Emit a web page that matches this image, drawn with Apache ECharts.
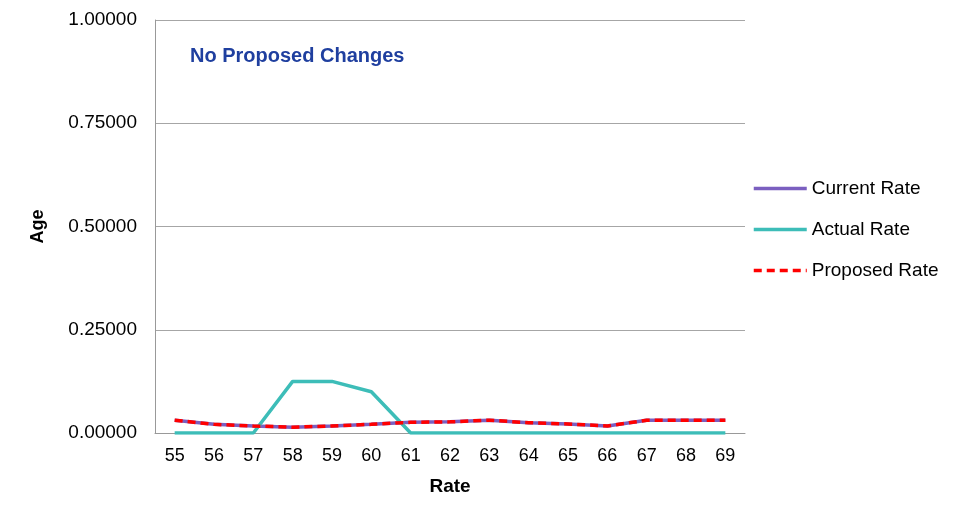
<!DOCTYPE html>
<html><head><meta charset="utf-8">
<script src="https://cdn.jsdelivr.net/npm/echarts@6/dist/echarts.min.js"></script>
<style>html,body{margin:0;padding:0;background:#fff}#c{width:956px;height:512px}</style>
</head><body><div id="c"></div>
<script>
const categories = ['55','56','57','58','59','60','61','62','63','64','65','66','67','68','69'];
const currentRate = [0.031,0.021,0.017,0.014,0.017,0.021,0.026,0.027,0.031,0.025,0.022,0.017,0.031,0.031,0.031];
const actualRate = [0,0,0,0.125,0.125,0.100,0,0,0,0,0,0,0,0,0];
const proposedRate = [0.031,0.021,0.017,0.014,0.017,0.021,0.026,0.027,0.031,0.025,0.022,0.017,0.031,0.031,0.031];
const yTicks = [0,0.25,0.5,0.75,1];

const chart = echarts.init(document.getElementById('c'));
const font = 'Liberation Sans, Arial, sans-serif';
chart.setOption({
  animation: false,
  textStyle: {fontFamily: font},
  title: {text: 'No Proposed Changes', left: 190, top: 46, padding: 0,
    textStyle: {color: '#1F3F9F', fontSize: 20, fontWeight: 'bold', fontFamily: font}},
  grid: {left: 155, top: 20, right: 211, bottom: 79},
  legend: {orient: 'vertical', left: 752, top: 179, padding: 0, itemWidth: 53, itemHeight: 14, itemGap: 22,
    itemStyle: {opacity: 0},
    lineStyle: {width: 3.5},
    textStyle: {fontSize: 19, color: '#000', fontFamily: font},
    data: ['Current Rate','Actual Rate','Proposed Rate']},
  xAxis: {type: 'category', data: categories, boundaryGap: true,
    name: 'Rate', nameLocation: 'middle', nameGap: 44,
    nameTextStyle: {fontSize: 19, fontWeight: 'bold', color: '#000', fontFamily: font},
    axisLine: {lineStyle: {color: '#999', width: 1}},
    axisTick: {show: false},
    axisLabel: {fontSize: 18, color: '#000', margin: 14, fontFamily: font}},
  yAxis: {type: 'value', min: yTicks[0], max: yTicks[yTicks.length-1], interval: 0.25,
    name: 'Age', nameLocation: 'middle', nameGap: 108, nameRotate: 90,
    nameTextStyle: {fontSize: 18, fontWeight: 'bold', color: '#000', fontFamily: font},
    axisLine: {show: true, lineStyle: {color: '#999', width: 1}},
    axisTick: {show: false},
    splitLine: {lineStyle: {color: '#A6A6A6', width: 1}},
    axisLabel: {fontSize: 19, color: '#000', margin: 18, fontFamily: font,
      formatter: v => v.toFixed(5)}},
  series: [
    {name: 'Current Rate', type: 'line', data: currentRate, symbol: 'none',
      lineStyle: {color: '#7B5FC0', width: 3.5}, itemStyle: {color: '#7B5FC0'}},
    {name: 'Actual Rate', type: 'line', data: actualRate, symbol: 'none',
      lineStyle: {color: '#3DBDB8', width: 3.5}, itemStyle: {color: '#3DBDB8'}},
    {name: 'Proposed Rate', type: 'line', data: proposedRate, symbol: 'none',
      lineStyle: {color: '#FF0000', width: 3.5, type: [8,5]}, itemStyle: {color: '#FF0000'}}
  ]
});
</script></body></html>
